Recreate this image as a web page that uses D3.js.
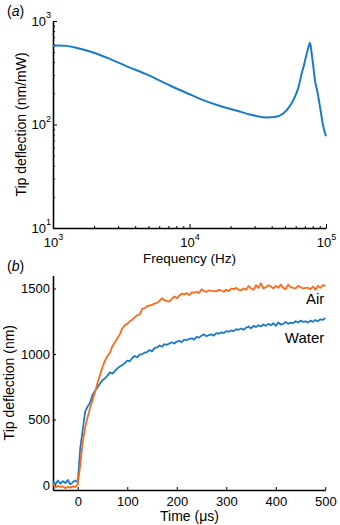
<!DOCTYPE html>
<html><head><meta charset="utf-8">
<script src="https://cdn.jsdelivr.net/npm/d3@7"></script>
<style>body{margin:0;background:#fff}svg{display:block}text{font-family:"Liberation Sans",Arial,Helvetica,sans-serif;fill:#000}</style>
</head><body><svg id="c" width="340" height="525"></svg>
<script>
// ---- panel (a): frequency response ----
const freqHz = [1000,1100,1250,1500,1866,2500,3470,5000,7195,10000,12600,17000,22200,27700,32000,36800,42000,48600,54000,59300,63000,66400,69000,71300,74000,76400,78500,80500,83000,86500,90300,95000,100000];
const tipNmPerMw = [577,580,575,548,508,440,365,300,238,196,172,150,136,125,119.5,117,118,128,149,186,232,312,376,452,545,616,488,376,269,207,149,99,77];
const freqLabelTicks = [1e3,1e4,1e5];
const ampLabelTicks = [1e1,1e2,1e3];

// ---- panel (b): step response ----
const timeUs = [-50,-45,-40,-35,-30,-25,-20,-15,-10,-5,
  0,5,10,15,20,25,30,35,40,45,
  50,55,60,65,70,75,80,85,90,95,
  100,105,110,115,120,125,130,135,140,145,
  150,155,160,165,170,175,180,185,190,195,
  200,205,210,215,220,225,230,235,240,245,
  250,255,260,265,270,275,280,285,290,295,
  300,305,310,315,320,325,330,335,340,345,
  350,355,360,365,370,375,380,385,390,395,
  400,405,410,415,420,425,430,435,440,445,
  450,455,460,465,470,475,480,485,490,495,
  500];
const airNm = [10,-20,-5,-15,-10,-25,-15,-20,-10,-15,
  5,150,330,440,520,590,650,710,780,840,
  900,950,985,1010,1060,1090,1120,1150,1195,1220,
  1230,1250,1262,1280,1295,1300,1345,1350,1365,1370,
  1375,1385,1390,1405,1425,1410,1405,1400,1420,1440,
  1425,1445,1460,1455,1465,1450,1470,1468,1475,1465,
  1495,1480,1475,1485,1482,1480,1478,1490,1485,1475,
  1490,1480,1500,1495,1505,1490,1485,1500,1490,1520,
  1500,1490,1525,1505,1540,1500,1510,1525,1515,1500,
  1520,1505,1530,1505,1495,1530,1510,1505,1500,1520,
  1510,1500,1505,1505,1495,1515,1490,1520,1505,1525,
  1520];
const waterNm = [30,5,35,10,30,15,38,5,20,35,
  20,280,420,560,600,630,690,720,745,775,
  800,815,835,860,850,870,890,905,915,930,
  950,945,970,985,975,995,1000,1010,1015,1030,
  1020,1045,1050,1065,1055,1075,1070,1080,1090,1080,
  1095,1100,1090,1110,1105,1115,1120,1110,1130,1125,
  1140,1150,1135,1145,1150,1140,1160,1155,1165,1160,
  1175,1170,1180,1175,1190,1185,1195,1185,1200,1210,
  1195,1215,1205,1220,1210,1225,1215,1230,1220,1235,
  1215,1240,1225,1230,1245,1230,1240,1235,1250,1240,
  1255,1245,1250,1240,1255,1245,1260,1250,1265,1260,
  1275];
const timeTicks = [0,100,200,300,400,500];
const deflTicks = [0,500,1000,1500];
const seriesNames = ["Air","Water"];

const BLUE = "#1b7cc4", ORANGE = "#ff6a1c";
const svg = d3.select("#c");

function isPow10(d){ const l = Math.log10(d); return Math.abs(l - Math.round(l)) < 1e-9; }
function supLabels(g, keep){
  g.selectAll(".tick text").each(function(d){
    const t = d3.select(this);
    if (!keep.some(k => Math.abs(k - d) < 1e-6)) { t.remove(); return; }
    t.text("10");
    t.append("tspan").attr("font-size","9px").attr("dy","-0.8em").text(Math.round(Math.log10(d)));
  });
}
function styleAxis(g){
  g.attr("font-family",null);
  g.select(".domain").attr("stroke","#000").attr("stroke-width",1.6);
  g.selectAll(".tick line").attr("stroke","#000").attr("stroke-width",1);
  g.selectAll(".tick text").attr("font-size","13px").attr("fill","#000")
    .style("font-family",'"Liberation Sans",Arial,sans-serif');
}

// ===== Panel A =====
const xA = d3.scaleLog().domain([1e3,1e5]).range([53,326]);
const yA = d3.scaleLog().domain([10,1000]).range([228,21]);

const gxA = svg.append("g").attr("transform",`translate(0,${yA(10)})`)
  .call(d3.axisBottom(xA).tickValues(xA.ticks()).tickSizeInner(-2).tickSizeOuter(0).tickPadding(10));
styleAxis(gxA);
gxA.selectAll(".tick line").attr("y2", d => isPow10(d) ? -4 : -2);
supLabels(gxA, freqLabelTicks);

const gyA = svg.append("g").attr("transform",`translate(${xA(1e3)},0)`)
  .call(d3.axisLeft(yA).tickValues(yA.ticks()).tickSizeInner(-2).tickSizeOuter(0).tickPadding(2));
styleAxis(gyA);
gyA.selectAll(".tick line").attr("x2", d => isPow10(d) ? 4 : 2);
supLabels(gyA, ampLabelTicks);

svg.append("path")
  .datum(freqHz.map((f,i)=>[f,tipNmPerMw[i]]))
  .attr("fill","none").attr("stroke",BLUE).attr("stroke-width",2)
  .attr("stroke-linejoin","round")
  .attr("d", d3.line().x(d=>xA(d[0])).y(d=>yA(d[1])).curve(d3.curveMonotoneX));

svg.append("text").attr("x",(xA.range()[0]+xA.range()[1])/2).attr("y",262.5)
  .attr("text-anchor","middle").attr("font-size","13.5px").text("Frequency (Hz)");
svg.append("text").attr("transform",`translate(26,${(yA.range()[0]+yA.range()[1])/2}) rotate(-90)`)
  .attr("text-anchor","middle").attr("font-size","14px").text("Tip deflection (nm/mW)");
const la = svg.append("text").attr("x",7).attr("y",15.5).attr("font-size","14px");
la.append("tspan").text("(");
la.append("tspan").attr("font-style","italic").text("a");
la.append("tspan").text(")");

// ===== Panel B =====
const xB = d3.scaleLinear().domain([-50,500]).range([53,325.3]);
const yB = d3.scaleLinear().domain([-38,1600]).range([490,275.4]);

const gxB = svg.append("g").attr("transform",`translate(0,${yB.range()[0]})`)
  .call(d3.axisBottom(xB).tickValues(timeTicks).tickFormat(d3.format("d")).tickSizeInner(-3).tickSizeOuter(0).tickPadding(7));
styleAxis(gxB);
const gyB = svg.append("g").attr("transform",`translate(${xB.range()[0]},0)`)
  .call(d3.axisLeft(yB).tickValues(deflTicks).tickFormat(d3.format("d")).tickSizeInner(-3).tickSizeOuter(0).tickPadding(3));
styleAxis(gyB);

const lineB = d3.line().x((d,i)=>xB(timeUs[i])).y(d=>yB(d)).curve(d3.curveLinear);
svg.append("path").datum(waterNm).attr("fill","none").attr("stroke",BLUE)
  .attr("stroke-width",1.8).attr("stroke-linejoin","round").attr("d",lineB);
svg.append("path").datum(airNm).attr("fill","none").attr("stroke",ORANGE)
  .attr("stroke-width",1.8).attr("stroke-linejoin","round").attr("d",lineB);

svg.append("text").attr("x",xB(500)-1).attr("y",yB(1385)).attr("text-anchor","end")
  .attr("font-size","15px").text(seriesNames[0]);
svg.append("text").attr("x",xB(500)-1).attr("y",yB(1084)).attr("text-anchor","end")
  .attr("font-size","15px").text(seriesNames[1]);

svg.append("text").attr("x",189.5).attr("y",521)
  .attr("text-anchor","middle").attr("font-size","14px").text("Time (μs)");
svg.append("text").attr("transform",`translate(13.5,${(yB.range()[0]+yB.range()[1])/2}) rotate(-90)`)
  .attr("text-anchor","middle").attr("font-size","14px").text("Tip deflection (nm)");
const lb = svg.append("text").attr("x",7).attr("y",271).attr("font-size","14px");
lb.append("tspan").text("(");
lb.append("tspan").attr("font-style","italic").text("b");
lb.append("tspan").text(")");
</script></body></html>
